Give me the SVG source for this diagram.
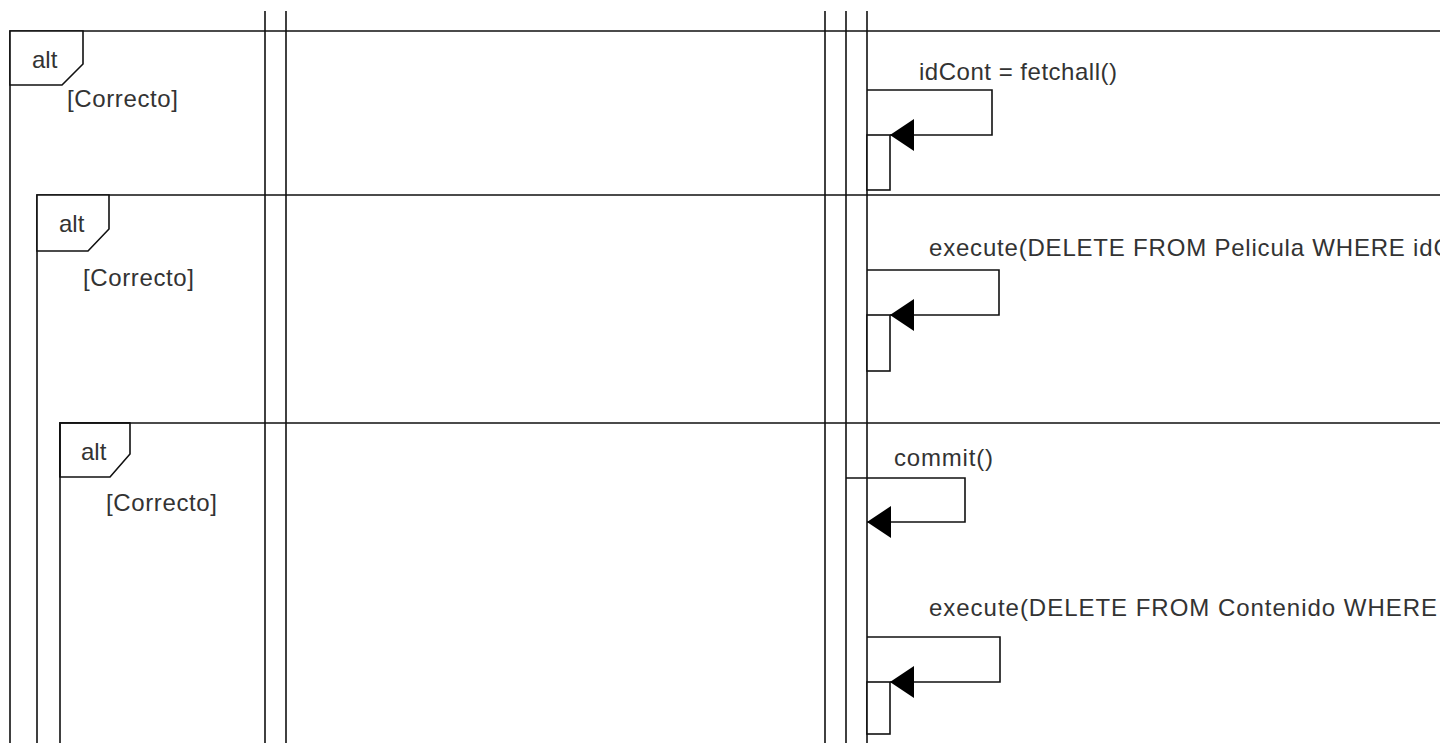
<svg xmlns="http://www.w3.org/2000/svg" width="1445" height="743" viewBox="0 0 1445 743">
<style>
.ln{stroke:#111;stroke-width:1.6;fill:none}
.tag{stroke:#111;stroke-width:1.6;fill:#fff}
.t{font-family:"Liberation Sans",Arial,sans-serif;font-size:24px;fill:#333}
.msg{stroke:#111;stroke-width:1.6;fill:none}
.act{stroke:#111;stroke-width:1.6;fill:#fff}
</style>
<defs>
<marker id="ah" markerUnits="userSpaceOnUse" markerWidth="25" markerHeight="33" refX="24" refY="16" orient="auto">
<path d="M0,0 L24,16 L0,32 Z" fill="#000"/>
</marker>
<clipPath id="clip"><rect x="0" y="0" width="1440" height="743"/></clipPath>
</defs>
<rect width="1445" height="743" fill="#fff"/>
<g id="lifelines" class="ln">
<line x1="265" y1="11" x2="265" y2="743"/>
<line x1="286" y1="11" x2="286" y2="743"/>
<line x1="825" y1="11" x2="825" y2="743"/>
<line x1="846" y1="11" x2="846" y2="743"/>
<line x1="867" y1="11" x2="867" y2="743"/>
</g>
<g id="frame1">
<path class="ln" d="M10,743 L10,31 L1440,31"/>
<path class="tag" d="M10,31 L83,31 L83,64 L62,85 L10,85 Z"/>
<text class="t" x="32" y="68">alt</text>
<text class="t" x="67" y="107" textLength="111" lengthAdjust="spacing">[Correcto]</text>
</g>
<g id="frame2">
<path class="ln" d="M37,743 L37,195 L1440,195"/>
<path class="tag" d="M37,195 L109,195 L109,229 L88,251 L37,251 Z"/>
<text class="t" x="59" y="232">alt</text>
<text class="t" x="83" y="286" textLength="111" lengthAdjust="spacing">[Correcto]</text>
</g>
<g id="frame3">
<path class="ln" d="M60,743 L60,423 L1440,423"/>
<path class="tag" d="M60,423 L130,423 L130,454 L110,477 L60,477 Z"/>
<path class="ln" d="M60,477 L60,423 L130,423" stroke-width="3"/>
<text class="t" x="81" y="460">alt</text>
<text class="t" x="106" y="511" textLength="111" lengthAdjust="spacing">[Correcto]</text>
</g>
<g id="connectors">
<g id="msg1">
<path class="msg" d="M867,90 L992,90 L992,135 L890,135" marker-end="url(#ah)"/>
<rect class="act" x="867" y="135" width="23" height="55"/>
<text class="t" x="919" y="80" textLength="198" lengthAdjust="spacing">idCont = fetchall()</text>
</g>
<g id="msg2">
<path class="msg" d="M867,270 L999,270 L999,315 L890,315" marker-end="url(#ah)"/>
<rect class="act" x="867" y="315" width="23" height="56"/>
<text class="t" x="929" y="256" letter-spacing="0.8" clip-path="url(#clip)">execute(DELETE FROM Pelicula WHERE idC</text>
</g>
<g id="msg3">
<path class="msg" d="M846,478 L965,478 L965,522 L867,522" marker-end="url(#ah)"/>
<text class="t" x="894" y="466" textLength="99" lengthAdjust="spacing">commit()</text>
</g>
<g id="msg4">
<path class="msg" d="M867,637 L1000,637 L1000,682 L890,682" marker-end="url(#ah)"/>
<rect class="act" x="867" y="682" width="23" height="52"/>
<text class="t" x="929" y="616" textLength="508" lengthAdjust="spacing">execute(DELETE FROM Contenido WHERE</text>
</g>
</g>
</svg>
